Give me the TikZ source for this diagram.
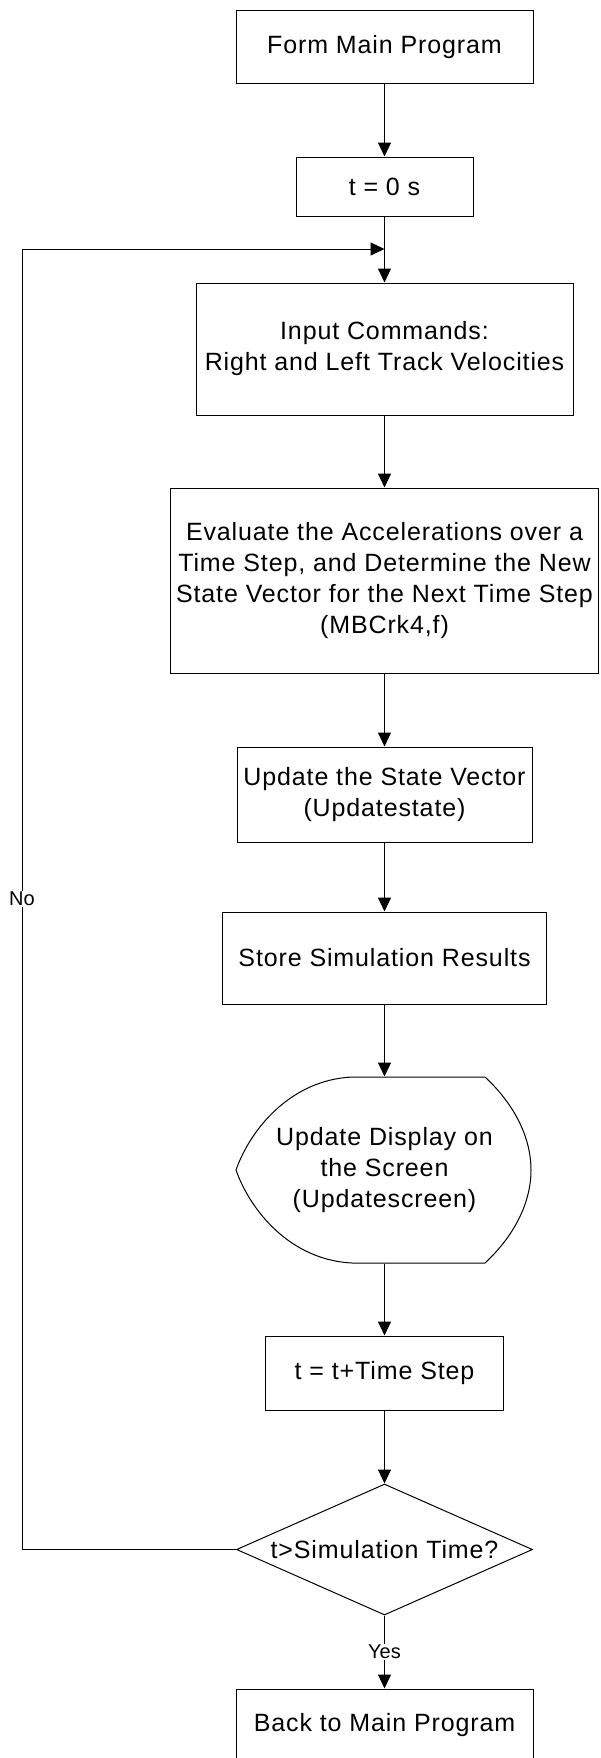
\documentclass[tikz,border=0pt]{standalone}
\usepackage{fontspec}
\setmainfont{Liberation Sans}[LetterSpace=3.5]
\newfontfamily\lblfont{Liberation Sans}
\usetikzlibrary{arrows.meta,shapes.geometric}
\begin{document}
\begin{tikzpicture}[x=1pt,y=-1pt,
  box/.style={draw, line width=1pt, inner sep=0pt, align=center, font=\fontsize{25}{31}\selectfont},
  arr/.style={line width=1pt, -{Triangle[length=14pt,width=13pt]}},
  lbl/.style={fill=white, inner sep=1.5pt, font=\lblfont\fontsize{20}{24}\selectfont}]
\useasboundingbox (0,0) rectangle (600,1758);
\clip (0,0) rectangle (600,1758);
\node[box, minimum width=297pt, minimum height=73pt] (form) at (384.5,47) {Form Main Program};
\node[box, minimum width=177pt, minimum height=59pt] (t0) at (384.5,186.5) {t = 0 s};
\node[box, minimum width=377pt, minimum height=132pt] (input) at (384.5,349) {Input Commands:\\Right and Left Track Velocities};
\node[box, minimum width=428pt, minimum height=185pt] (eval) at (384.5,580.5) {Evaluate the Accelerations over a\\Time Step, and Determine the New\\State Vector for the Next Time Step\\(MBCrk4,f)};
\node[box, minimum width=295pt, minimum height=95pt] (upd) at (384.5,794.5) {Update the State Vector\\(Updatestate)};
\node[box, minimum width=324pt, minimum height=92pt] (store) at (384.5,958) {Store Simulation Results};
\node[box, draw=none, minimum width=295pt, minimum height=186pt] (disp) at (384.5,1170) {Update Display on\\the Screen\\(Updatescreen)};
\draw[line width=1pt] (352,1077) -- (485,1077)
  .. controls (512,1102) and (531,1135) .. (531,1170)
  .. controls (531,1205) and (512,1238) .. (485,1263)
  -- (352,1263)
  .. controls (290,1260) and (250,1210) .. (236,1170)
  .. controls (250,1130) and (290,1080) .. cycle;
\node[box, minimum width=238pt, minimum height=74pt] (tstep) at (384.5,1373) {t = t+Time Step};
\node[box, diamond, aspect=2.26, minimum width=296pt, minimum height=131pt] (dia) at (384.5,1549.5) {t>Simulation Time?};
\node[box, minimum width=297pt, minimum height=72pt] (back) at (384.5,1725) {Back to Main Program};
\coordinate (j) at (384.5,249);
\coordinate (nl) at (22,249);
\draw[arr] (form) -- (t0);
\draw[arr] (t0) -- (input);
\draw[arr] (input) -- (eval);
\draw[arr] (eval) -- (upd);
\draw[arr] (upd) -- (store);
\draw[arr] (store) -- (disp.north);
\draw[arr] (disp.south) -- (tstep);
\draw[arr] (tstep) -- (dia);
\draw[arr] (dia.west) -| (nl) -- (j);
\node[lbl] (no) at (22,899) {No};
\draw[arr] (dia.south) -- node[lbl] (yes) {Yes} (back.north);
\end{tikzpicture}
\end{document}
